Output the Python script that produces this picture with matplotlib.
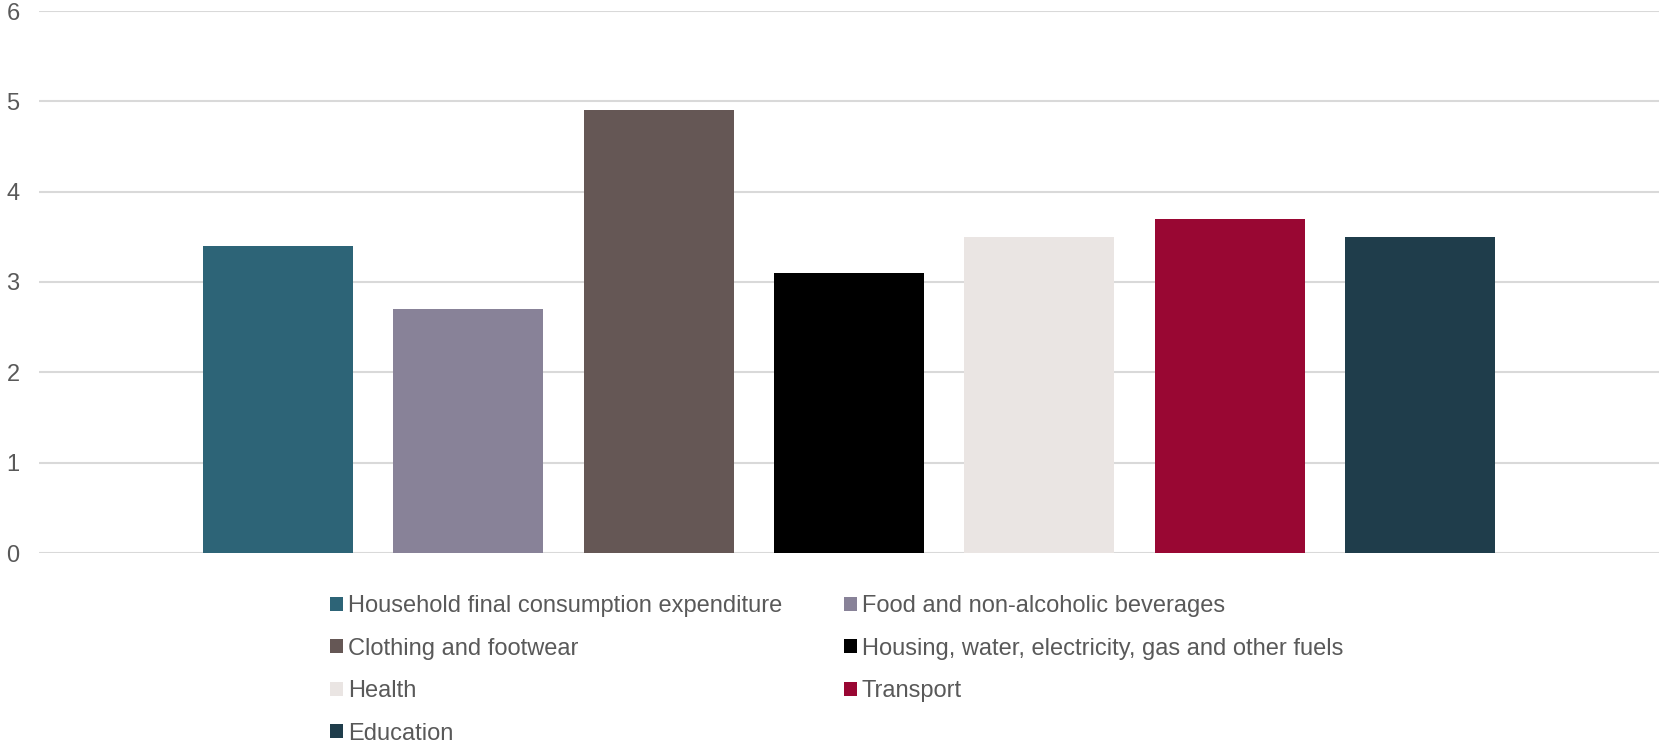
import matplotlib.pyplot as plt
from matplotlib.patches import Patch

categories = ['Household final consumption expenditure',
              'Food and non-alcoholic beverages',
              'Clothing and footwear',
              'Housing, water, electricity, gas and other fuels',
              'Health',
              'Transport',
              'Education']
values = [3.4, 2.7, 4.9, 3.1, 3.5, 3.7, 3.5]
colors = ['#2D6477', '#888298', '#655755', '#000000', '#EAE5E3', '#990733', '#1F3D4B']
yticks = [0, 1, 2, 3, 4, 5, 6]

plt.rcParams['font.family'] = ['Liberation Sans', 'DejaVu Sans']

fig = plt.figure(figsize=(16.59, 7.46), dpi=100)
ax = fig.add_axes([39 / 1659, 1 - 553 / 746, 1 - 39 / 1659, (553 - 11) / 746])

x = list(range(len(values)))
ax.bar(x, values, width=0.787, color=colors, zorder=3)

ax.set_xlim(-1.255, len(values) - 1 + 1.255)
ax.set_ylim(0, 6)
ax.set_yticks(yticks)
ax.set_xticks([])
ax.grid(axis='y', color='#D9D9D9', linewidth=1.5, zorder=0)
for s in ax.spines.values():
    s.set_visible(False)
ax.tick_params(axis='y', length=0, pad=14, labelsize=17, labelcolor='#595959')

# legend filled row by row: reorder for matplotlib's column-major fill
handles = [Patch(facecolor=c, edgecolor='none') for c in colors]
order = [0, 2, 4, 6, 1, 3, 5]
fig.legend([handles[i] for i in order], [categories[i] for i in order],
           ncol=2, loc='upper left', bbox_to_anchor=(330 / 1659, 1 - 595 / 746),
           frameon=False, fontsize=17, labelcolor='#595959',
           handlelength=0.55, handleheight=0.55, handletextpad=0.22,
           columnspacing=2.6, labelspacing=0.87, borderpad=0, borderaxespad=0)

fig.savefig('out.png', dpi=100)
